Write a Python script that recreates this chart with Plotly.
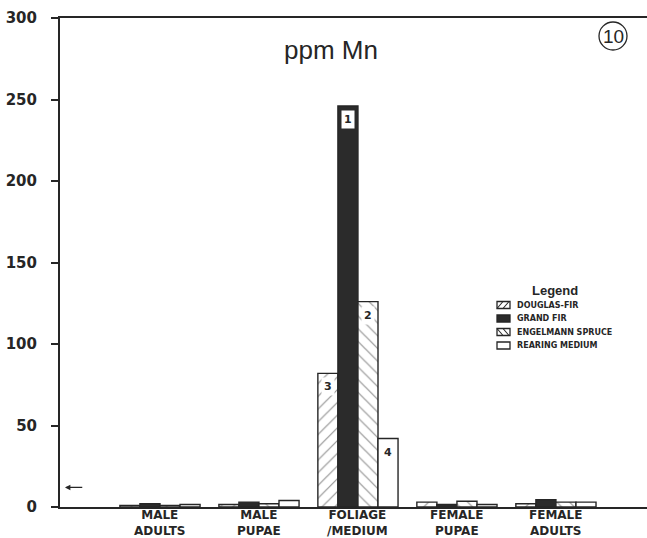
import plotly.graph_objects as go

# Manganese content (ppm) by life stage and host
categories = ["MALE<br>ADULTS", "MALE<br>PUPAE", "FOLIAGE<br>/MEDIUM", "FEMALE<br>PUPAE", "FEMALE<br>ADULTS"]
series_names = ["DOUGLAS-FIR", "GRAND FIR", "ENGELMANN SPRUCE", "REARING MEDIUM"]
douglas_fir = [1, 1.5, 82, 3, 2]
grand_fir = [2, 3, 246, 1.5, 4.5]
engelmann_spruce = [1, 2, 126, 3.5, 3]
rearing_medium = [1.5, 4, 42, 1.5, 3]
series_values = [douglas_fir, grand_fir, engelmann_spruce, rearing_medium]
foliage_labels = ["3", "1", "2", "4"]
y_ticks = [0, 50, 100, 150, 200, 250, 300]
arrow_level = 12

INK = "#262626"
W, H = 647, 538
ML, MR, MT, MB = 60, 0, 18, 31
PW, PH = W - ML - MR, H - MT - MB
XR = [-1.01, 4.92]
BARGAP = 0.19
bar_w = (1 - BARGAP) / len(series_names)


def px_x(px):
    return (px - ML) / PW


def px_y(py):
    return (H - MB - py) / PH


hatch = dict(size=9, solidity=0.13, fgcolor=INK, bgcolor="white")
styles = [
    dict(color="white", pattern=dict(shape="/", **hatch)),
    dict(color="#2b2b2b"),
    dict(color="white", pattern=dict(shape="\\", **hatch)),
    dict(color="white"),
]

x_pos = list(range(len(categories)))
fig = go.Figure()
for name, vals, st in zip(series_names, series_values, styles):
    fig.add_trace(go.Bar(
        x=x_pos, y=vals, name=name, showlegend=False,
        marker=dict(**st, line=dict(color=INK, width=1.4)),
    ))

# category names under the axis
for i, cat in enumerate(categories):
    fig.add_annotation(
        x=i, xref="x", yref="paper", y=px_y(522.5),
        xanchor="center", yanchor="middle", showarrow=False,
        text="<b>%s</b>" % cat, borderpad=0,
        font=dict(family="DejaVu Sans", size=12, color=INK),
    )

# numbered tags near the tops of the foliage bars
fol = categories.index("FOLIAGE<br>/MEDIUM")
for k, (lab, vals) in enumerate(zip(foliage_labels, series_values)):
    fig.add_annotation(
        x=fol + (k - 1.5) * bar_w, y=vals[fol], text="<b>%s</b>" % lab,
        showarrow=False, yanchor="top", xanchor="center", yshift=-4,
        font=dict(family="DejaVu Sans", size=11, color=INK),
        bgcolor="white", borderpad=2,
    )

# small arrow pointing at the y axis
fig.add_annotation(
    x=-0.96, y=arrow_level, ax=-0.77, ay=arrow_level,
    xref="x", yref="y", axref="x", ayref="y",
    text="", showarrow=True, arrowhead=2, arrowsize=0.9, arrowwidth=1.2, arrowcolor=INK,
)

# title
fig.add_annotation(
    xref="paper", yref="paper", x=px_x(331), y=px_y(50),
    xanchor="center", yanchor="middle",
    text="ppm Mn", showarrow=False,
    font=dict(family="Liberation Sans", size=26, color=INK),
)

# circled plate number
cx, cy, r = 613, 36, 14
fig.add_shape(
    type="circle", xref="paper", yref="paper",
    x0=px_x(cx - r), x1=px_x(cx + r), y0=px_y(cy + r), y1=px_y(cy - r),
    line=dict(color=INK, width=1.3),
)
fig.add_annotation(
    xref="paper", yref="paper", x=px_x(cx), y=px_y(cy + 1),
    xanchor="center", yanchor="middle",
    text="10", showarrow=False,
    font=dict(family="Liberation Sans", size=19, color=INK),
)

# legend block: title, icons and labels
fig.add_annotation(
    xref="paper", yref="paper", x=px_x(555), y=px_y(290),
    xanchor="center", yanchor="middle", showarrow=False,
    text="<b>Legend</b>", font=dict(family="Liberation Sans", size=13, color=INK),
)
row_y = [305, 318.5, 332, 345.5]
ix0, ix1, ih = 497, 510, 7
for k, (name, py) in enumerate(zip(series_names, row_y)):
    y0, y1 = px_y(py + ih / 2), px_y(py - ih / 2)
    fill = "#2b2b2b" if k == 1 else "white"
    fig.add_shape(type="rect", xref="paper", yref="paper",
                  x0=px_x(ix0), x1=px_x(ix1), y0=y0, y1=y1,
                  line=dict(color=INK, width=1.3), fillcolor=fill)
    if k in (0, 2):
        for off in (0, 6):
            if k == 0:
                a, b = (ix0 + off, py + ih / 2), (ix0 + off + 6, py - ih / 2)
            else:
                a, b = (ix0 + off, py - ih / 2), (ix0 + off + 6, py + ih / 2)
            fig.add_shape(type="line", xref="paper", yref="paper",
                          x0=px_x(a[0]), y0=px_y(a[1]), x1=px_x(b[0]), y1=px_y(b[1]),
                          line=dict(color=INK, width=1.1))
    fig.add_annotation(
        xref="paper", yref="paper", x=px_x(515), y=px_y(py),
        xanchor="left", yanchor="middle", showarrow=False,
        text="<b>%s</b>" % name, font=dict(family="DejaVu Sans", size=8, color=INK),
    )

fig.update_layout(
    width=W, height=H,
    margin=dict(l=ML, r=MR, t=MT, b=MB, autoexpand=False),
    paper_bgcolor="white", plot_bgcolor="white",
    barmode="group", bargap=BARGAP, bargroupgap=0,
    showlegend=False,
    xaxis=dict(
        range=XR, tickvals=x_pos, showticklabels=False, automargin=False,
        showline=True, linewidth=2, linecolor=INK, mirror=True,
        ticks="", showgrid=False, zeroline=False,
    ),
    yaxis=dict(
        range=[0, 300], tickvals=y_ticks, automargin=False,
        showline=True, linewidth=2, linecolor=INK,
        ticks="outside", ticklen=7, tickwidth=1.5, tickcolor=INK,
        ticklabelstandoff=11,
        showgrid=False, zeroline=False,
        tickfont=dict(family="DejaVu Sans", size=15, color=INK, weight="bold"),
    ),
)

fig.write_html("out.html")
